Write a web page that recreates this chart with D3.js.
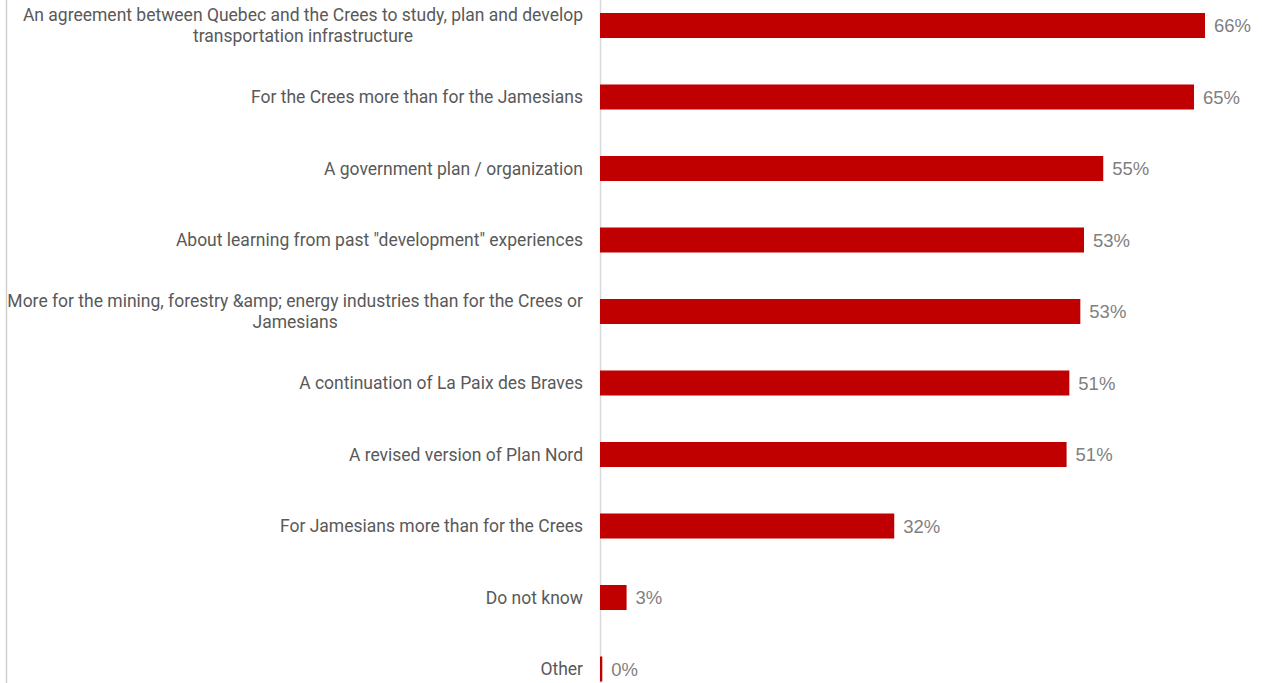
<!DOCTYPE html>
<html><head><meta charset="utf-8">
<script src="https://cdn.jsdelivr.net/npm/d3@7/dist/d3.min.js"></script>
<style>
html,body{margin:0;padding:0;background:#fff;overflow:hidden}
svg{display:block}
</style></head>
<body>
<svg id="chart" width="1262" height="683"></svg>
<script>
const categories = [
  "An agreement between Quebec and the Crees to study, plan and develop\ntransportation infrastructure",
  "For the Crees more than for the Jamesians",
  "A government plan / organization",
  "About learning from past \"development\" experiences",
  "More for the mining, forestry &amp; energy industries than for the Crees or\nJamesians",
  "A continuation of La Paix des Braves",
  "A revised version of Plan Nord",
  "For Jamesians more than for the Crees",
  "Do not know",
  "Other"
];
const values = [66.0, 64.8, 54.9, 52.8, 52.4, 51.2, 50.9, 32.1, 2.9, 0.25];
const valueLabels = ["66%", "65%", "55%", "53%", "53%", "51%", "51%", "32%", "3%", "0%"];

const W = 1262, H = 683;
const svg = d3.select("#chart");
const x0 = 600;
const x = d3.scaleLinear().domain([0, 66]).range([x0, 1205]);
const y = d3.scaleBand().domain(d3.range(categories.length)).range([-10.25, 704.75]).paddingInner(0.65).paddingOuter(0.325);

const font = "Roboto, 'Liberation Sans', Arial, sans-serif";
const vfont = "'Liberation Sans', Arial, sans-serif";

// left border
svg.append("line").attr("x1", 6.5).attr("x2", 6.5).attr("y1", 0).attr("y2", H)
  .attr("stroke", "#d0d0d0").attr("stroke-width", 1.5);

// axis line
svg.append("line").attr("x1", x0 + 0.5).attr("x2", x0 + 0.5).attr("y1", 0).attr("y2", H)
  .attr("stroke", "#d9d9d9").attr("stroke-width", 1.5);

// bars
svg.selectAll("rect.bar").data(values).join("rect")
  .attr("class", "bar")
  .attr("x", x(0))
  .attr("y", (d, i) => y(i))
  .attr("width", d => x(d) - x(0))
  .attr("height", y.bandwidth())
  .attr("fill", "#C00000");

// value labels
svg.selectAll("text.val").data(values).join("text")
  .attr("class", "val")
  .attr("x", d => x(d) + 9)
  .attr("y", (d, i) => y(i) + y.bandwidth() / 2)
  .attr("dy", "0.36em")
  .attr("font-family", vfont)
  .attr("font-size", 18.5)
  .attr("fill", "#7f7f7f")
  .text((d, i) => valueLabels[i]);

// category labels
const rightEdge = 583;
const lineH = 21.5;
categories.forEach((c, i) => {
  const lines = c.split("\n");
  const cy = y(i) + y.bandwidth() / 2;
  const g = svg.append("text")
    .attr("font-family", font)
    .attr("font-size", 17.5)
    .attr("fill", "#595959");
  const tspans = lines.map((ln, k) => g.append("tspan").text(ln));
  const widths = tspans.map(t => t.node().getComputedTextLength());
  const maxW = d3.max(widths);
  const cx = rightEdge - maxW / 2;
  tspans.forEach((t, k) => {
    t.attr("x", cx).attr("text-anchor", "middle")
     .attr("y", cy + (k - (lines.length - 1) / 2) * lineH)
     .attr("dy", "0.35em");
  });
});
</script>
</body></html>
